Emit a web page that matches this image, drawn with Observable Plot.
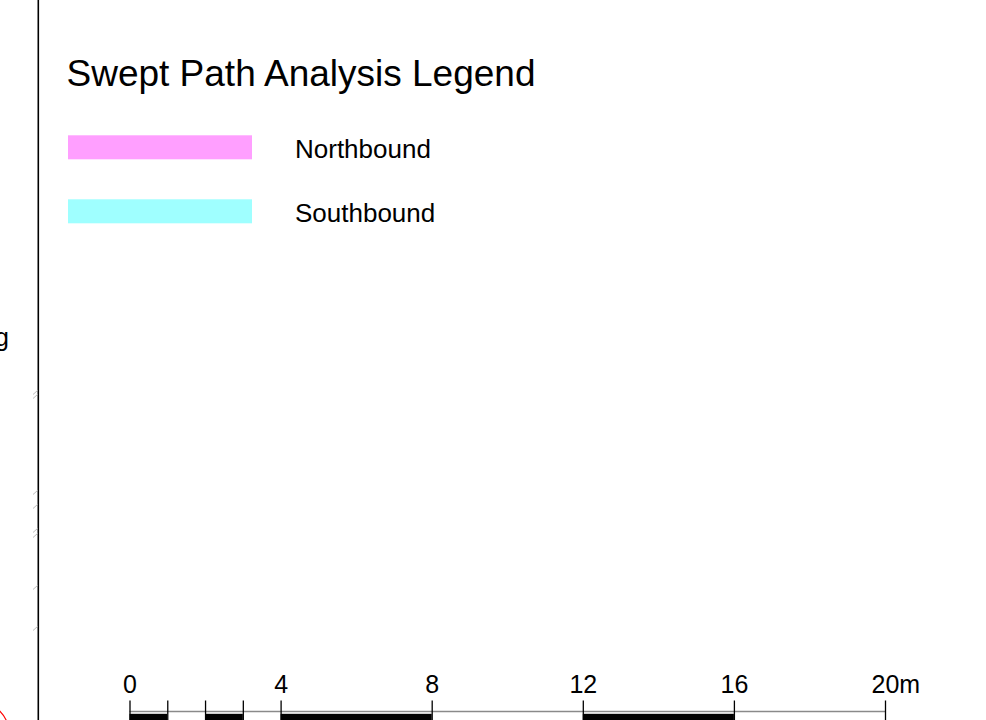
<!DOCTYPE html>
<html>
<head>
<meta charset="utf-8">
<script src="https://cdn.jsdelivr.net/npm/d3@7"></script>
<script src="https://cdn.jsdelivr.net/npm/@observablehq/plot@0.6"></script>
<style>
  html, body { margin: 0; padding: 0; background: #fff; }
  #wrap { position: relative; width: 986px; height: 720px; overflow: hidden; background: #fff; }
  #wrap > svg, #wrap > figure { position: absolute; left: 0; margin: 0; }
</style>
</head>
<body>
<div id="wrap"></div>
<script>
// ---- data ----
const titleText = "Swept Path Analysis Legend";
const legendItems = ["Northbound", "Southbound"];
const legendColors = ["#ff9fff", "#9fffff"];
const scaleFilled = [[0, 1], [2, 3], [4, 8], [12, 16]];   // metres, black segments
const scaleTicks = [0, 1, 2, 3, 4, 8, 12, 16, 20];        // metres
const scaleLabels = [0, 4, 8, 12, 16, 20];                // metres
const scaleUnit = "m";
const borderMarks = [392, 396, 492, 506, 530, 535, 587, 628]; // small hatch marks along the frame
const clippedWord = ["g"];

const font = "'Liberation Sans', Arial, Helvetica, sans-serif";
const wrap = document.getElementById("wrap");

// ---- sheet layer: frame, title, legend ----
const sheet = Plot.plot({
  width: 986, height: 720,
  margin: 0,
  x: {domain: [0, 986], range: [0, 986], axis: null},
  y: {domain: [0, 720], range: [0, 720], axis: null},
  color: {type: "ordinal", domain: legendItems, range: legendColors},
  style: {fontFamily: font, background: "white", overflow: "hidden"},
  marks: [
    Plot.ruleX([37.8], {y1: 0, y2: 720, stroke: "black", strokeWidth: 1.6}),
    Plot.link(borderMarks, {x1: 32.5, x2: 37, y1: d => d + 2, y2: d => d - 2, stroke: "#bdbdbd", strokeWidth: 1}),
    Plot.dot([0], {x: -20, y: 731, r: 28, stroke: "red", fill: "none", strokeWidth: 1.2}),
    Plot.text(clippedWord, {x: 8.5, y: 337, text: d => d, textAnchor: "end", lineAnchor: "middle", fontSize: 25, fill: "black"}),
    Plot.text([titleText], {x: 66, y: 73.4, text: d => d, textAnchor: "start", lineAnchor: "middle", fontSize: 37, fill: "black"}),
    Plot.rect(legendItems, {x1: 68, x2: 252, y1: (d, i) => 135.3 + 64 * i, y2: (d, i) => 159.3 + 64 * i, fill: d => d}),
    Plot.text(legendItems, {x: 294.5, y: (d, i) => 149 + 64 * i, text: d => d, textAnchor: "start", lineAnchor: "middle", fontSize: 26, fill: "black"})
  ]
});
sheet.style.top = "0px";
wrap.appendChild(sheet);

// ---- scale bar layer (x in metres) ----
const bar = Plot.plot({
  width: 986, height: 60,
  marginLeft: 129.5, marginRight: 101, marginTop: 0, marginBottom: 0,
  x: {domain: [0, 20], axis: null},
  y: {domain: [0, 60], range: [0, 60], axis: null},
  style: {fontFamily: font, background: "transparent", overflow: "hidden"},
  marks: [
    Plot.ruleY([51], {x1: 0, x2: 20, stroke: "#8a8a8a", strokeWidth: 1.6}),
    Plot.rect(scaleFilled, {x1: d => d[0], x2: d => d[1], y1: 53.8, y2: 64, fill: "black", inset: 0}),
    Plot.ruleX(scaleTicks, {y1: 40.5, y2: 64, stroke: "black", strokeWidth: 1.3}),
    Plot.text(scaleLabels.filter(d => d !== 20), {x: d => d, y: 24.5, text: d => String(d), textAnchor: "middle", lineAnchor: "middle", fontSize: 25, fill: "black"}),
    Plot.text(scaleLabels.filter(d => d === 20), {x: d => d, y: 24.5, text: d => `${d}${scaleUnit}`, textAnchor: "start", dx: -14, lineAnchor: "middle", fontSize: 25, fill: "black"})
  ]
});
bar.style.top = "660px";
wrap.appendChild(bar);
</script>
</body>
</html>
